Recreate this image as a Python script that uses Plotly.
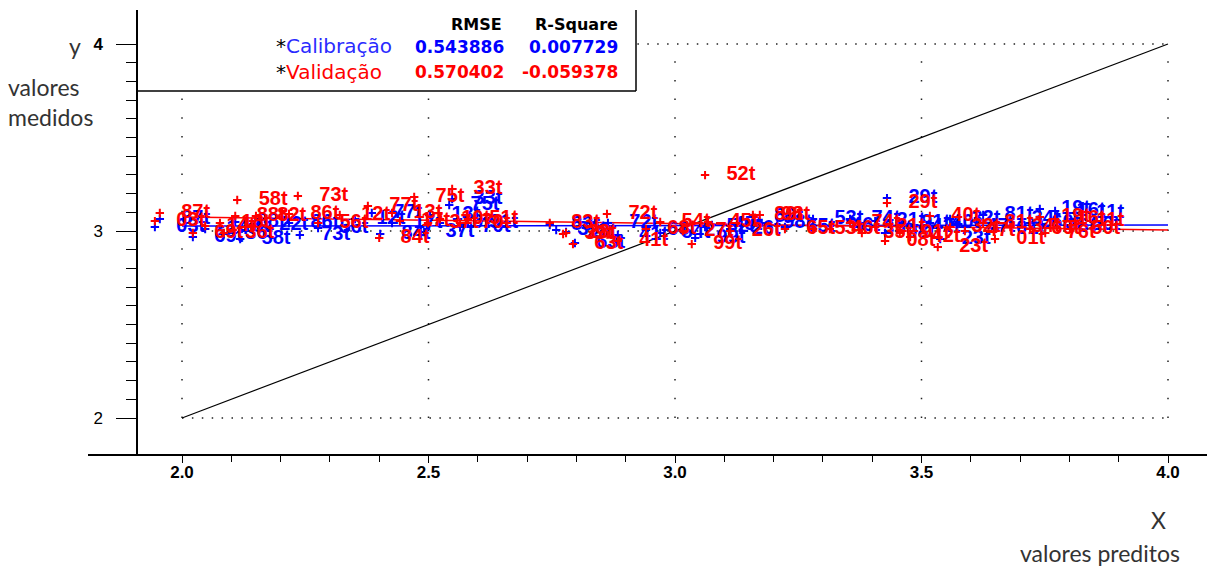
import plotly.graph_objects as go
import numpy as np

W, H = 1207, 567

# ---------------- data ----------------
cal_labels = ["03t", "87t", "69t", "14t", "18t", "36t", "88t", "58t", "22t", "86t", "73t", "56t",
              "12t", "77t", "84t", "17t", "37t", "13t", "10t", "75t", "33t", "70t", "51t",
              "83t", "39t", "28t", "63t", "72t", "41t", "68t", "54t", "27t", "99t", "52t", "45t",
              "26t", "89t", "98t", "65t",
              "53t", "46t", "74t", "35t", "21t", "29t", "08t", "91t", "42t", "40t", "23t", "32t",
              "47t", "81t", "01t", "34t", "60t", "19t", "76t", "16t", "50t", "11t"]
cal_x = [1.945, 1.955, 2.022, 2.047, 2.077, 2.085, 2.108, 2.118, 2.154, 2.217, 2.239, 2.276,
         2.351, 2.385, 2.402, 2.426, 2.491, 2.503, 2.523, 2.542, 2.548, 2.564, 2.580,
         2.746, 2.759, 2.779, 2.797, 2.864, 2.884, 2.941, 2.970, 3.016, 3.041, 3.061, 3.075,
         3.112, 3.158, 3.176, 3.223,
         3.280, 3.314, 3.355, 3.379, 3.406, 3.430, 3.426, 3.456, 3.477, 3.517, 3.538, 3.558,
         3.588, 3.625, 3.649, 3.680, 3.720, 3.740, 3.751, 3.771, 3.801, 3.811]
cal_y = [3.021, 3.064, 2.968, 3.011, 3.021, 2.984, 3.048, 2.957, 3.032, 3.043, 2.979, 3.016,
         3.064, 3.096, 2.984, 3.043, 2.995, 3.086, 3.043, 3.139, 3.171, 3.021, 3.043,
         3.032, 3.005, 2.995, 2.936, 3.043, 2.979, 3.005, 2.989, 3.000, 2.963, 3.021, 3.032,
         3.011, 3.075, 3.043, 3.021,
         3.064, 3.027, 3.064, 3.011, 3.053, 3.176, 2.989, 3.043, 3.021, 3.043, 2.957, 3.064,
         3.021, 3.086, 3.011, 3.064, 3.043, 3.118, 3.021, 3.107, 3.032, 3.096]

val_labels = ["03t", "87t", "69t", "14t", "18t", "36t", "88t", "58t", "82t", "86t", "73t", "56t",
              "12t", "77t", "84t", "13t", "17t", "75t", "37t", "10t", "33t", "70t", "51t",
              "83t", "39t", "28t", "63t", "72t", "41t", "68t", "54t", "27t", "99t", "52t", "45t",
              "26t", "89t", "98t", "65t",
              "53t", "46t", "74t", "35t", "21t", "29t", "08t", "91t", "42t", "40t", "23t", "32t",
              "47t", "81t", "01t", "34t", "60t", "19t", "76t", "16t", "50t", "11t"]
val_x = [1.945, 1.955, 2.022, 2.047, 2.077, 2.085, 2.108, 2.112, 2.150, 2.217, 2.235, 2.276,
         2.320, 2.377, 2.400, 2.426, 2.442, 2.471, 2.499, 2.523, 2.548, 2.564, 2.580,
         2.746, 2.773, 2.779, 2.793, 2.862, 2.884, 2.941, 2.970, 3.016, 3.034, 3.061, 3.067,
         3.112, 3.158, 3.172, 3.223,
         3.280, 3.314, 3.355, 3.379, 3.406, 3.430, 3.426, 3.456, 3.477, 3.517, 3.533, 3.558,
         3.588, 3.625, 3.649, 3.680, 3.720, 3.740, 3.751, 3.771, 3.801, 3.811]
val_y = [3.053, 3.096, 2.989, 3.027, 3.043, 2.989, 3.080, 3.166, 3.080, 3.091, 3.187, 3.043,
         3.086, 3.134, 2.963, 3.096, 3.053, 3.182, 3.043, 3.064, 3.225, 3.043, 3.064,
         3.043, 2.984, 2.989, 2.930, 3.091, 2.947, 3.011, 3.048, 3.000, 2.930, 3.299, 3.048,
         3.000, 3.086, 3.086, 3.011,
         3.011, 3.011, 3.043, 2.989, 3.021, 3.150, 2.947, 2.989, 2.968, 3.080, 2.914, 3.021,
         3.000, 3.043, 2.957, 3.021, 3.011, 3.075, 2.989, 3.064, 3.011, 3.053]

# regression lines (end points) and target line
reg_x = [2.0, 4.0]
cal_fit_y = [3.027, 3.032]
val_fit_y = [3.075, 3.005]
target_x = [2.0, 4.0]
target_y = [2.0, 4.0]

stats_header = ["RMSE", "R-Square"]
cal_stats = ["0.543886", "0.007729"]
val_stats = ["0.570402", "-0.059378"]

BLUE = "#0000ff"
RED = "#ff0000"

# ---------------- geometry ----------------
XPIX = 493.0   # px per x unit
YPIX = 187.0   # px per y unit
x_range = [2.0 - (182 - 88) / XPIX, 4.0 + (1207 - 1168) / XPIX]
y_range = [2.0 - (454 - 418) / YPIX, 4.0 + (44 - 10) / YPIX]
y_dom = [(H - 454) / H, (H - 10) / H]
x_dom = [88 / W, 1.0]
yaxis_pos = 137 / W
yaxis_x_data = 2.0 - (182 - 137) / XPIX
box_right = 2.0 + (636 - 182) / XPIX
box_bottom = 3.0 - (90 - 230) / YPIX

fig = go.Figure()

fig.add_trace(go.Scatter(x=target_x, y=target_y, mode="lines",
                         line=dict(color="black", width=1.2), showlegend=False, hoverinfo="skip"))
fig.add_trace(go.Scatter(x=reg_x, y=cal_fit_y, mode="lines",
                         line=dict(color=BLUE, width=1.5), showlegend=False, hoverinfo="skip"))
fig.add_trace(go.Scatter(x=reg_x, y=val_fit_y, mode="lines",
                         line=dict(color=RED, width=1.5), showlegend=False, hoverinfo="skip"))

label_font = dict(family="Liberation Sans, Arial", size=20, weight="bold")
for lab, xs, ys, col in [(cal_labels, cal_x, cal_y, BLUE), (val_labels, val_x, val_y, RED)]:
    fig.add_trace(go.Scatter(
        x=xs, y=ys, text=lab, mode="markers+text",
        texttemplate="\u00a0\u00a0\u00a0%{text}",
        textposition="middle right",
        textfont=dict(color=col, **label_font),
        marker=dict(symbol="cross-thin", size=6, line=dict(color=col, width=2), color=col),
        showlegend=False, cliponaxis=False))

# ---------------- shapes (grid + stats box) ----------------
shapes = []
for gx in [2.0, 2.5, 3.0, 3.5, 4.0]:
    shapes.append(dict(type="line", xref="x", yref="y", x0=gx, x1=gx, y0=2.0, y1=4.0,
                       line=dict(color="#222", width=1.5, dash="1.5px,17.2px"), layer="below"))
for gy in [2.0, 3.0, 4.0]:
    shapes.append(dict(type="line", xref="x", yref="y", x0=2.0, x1=4.0, y0=gy, y1=gy,
                       line=dict(color="#222", width=1.5, dash="1.5px,8.4px"), layer="below"))
shapes.append(dict(type="rect", xref="x", yref="y", x0=yaxis_x_data, x1=box_right,
                   y0=box_bottom, y1=y_range[1], fillcolor="white", line=dict(width=0), layer="below"))
shapes.append(dict(type="line", xref="x", yref="y", x0=yaxis_x_data, x1=box_right,
                   y0=box_bottom, y1=box_bottom, line=dict(color="black", width=1.5)))
shapes.append(dict(type="line", xref="x", yref="y", x0=box_right, x1=box_right,
                   y0=box_bottom, y1=y_range[1], line=dict(color="black", width=1.5)))


def ann(text, x, y, xanchor="left", size=16, color="black", family="DejaVu Sans", weight="normal"):
    return dict(text=text, x=x / W, y=1 - y / H, xref="paper", yref="paper",
                xanchor=xanchor, yanchor="middle", showarrow=False,
                font=dict(size=size, color=color, family=family, weight=weight))


annotations = [
    ann(stats_header[0], 504, 25, "right", 16, "black", "DejaVu Sans", "bold"),
    ann(stats_header[1], 620, 25, "right", 16, "black", "DejaVu Sans", "bold"),
    ann("*<span style='color:#2a2aff'>Calibração</span>", 274, 46, "left", 20, "black", "DejaVu Sans"),
    ann("*<span style='color:#ff0000'>Validação</span>", 274, 72, "left", 20, "black", "DejaVu Sans"),
    ann(cal_stats[0], 506, 47, "right", 17, BLUE, "DejaVu Sans", "bold"),
    ann(cal_stats[1], 620, 47, "right", 17, BLUE, "DejaVu Sans", "bold"),
    ann(val_stats[0], 506, 72, "right", 17, RED, "DejaVu Sans", "bold"),
    ann(val_stats[1], 620, 72, "right", 17, RED, "DejaVu Sans", "bold"),
    ann("y", 75, 46, "center", 23, "#333", "Lato"),
    ann("valores", 6, 87, "left", 23, "#333", "Lato"),
    ann("medidos", 6, 117, "left", 23, "#333", "Lato"),
    ann("X", 1158, 520, "center", 23, "#333", "Lato"),
    ann("valores preditos", 1182, 553, "right", 23, "#333", "Lato"),
]

fig.update_layout(
    width=W, height=H,
    margin=dict(l=0, r=0, t=0, b=0),
    paper_bgcolor="white", plot_bgcolor="white",
    shapes=shapes, annotations=annotations,
    xaxis=dict(domain=x_dom, range=x_range, anchor="y",
               showgrid=False, zeroline=False, showline=True, linecolor="black", linewidth=2,
               tickmode="array", tickvals=[2.0, 2.5, 3.0, 3.5, 4.0],
               ticktext=["2.0", "2.5", "3.0", "3.5", "4.0"],
               ticks="outside", ticklen=7, tickwidth=1.2, tickcolor="black",
               ticklabelstandoff=-5,
               tickfont=dict(family="Liberation Sans, Arial", size=17, color="black", weight="bold"),
               minor=dict(tickmode="array",
                          tickvals=[v for v in np.round(np.arange(2.1, 4.0, 0.1), 1) if v not in (2.5, 3.0, 3.5)],
                          ticks="outside", ticklen=6, tickwidth=1.2, tickcolor="black", showgrid=False)),
    yaxis=dict(domain=y_dom, range=y_range, anchor="free", position=yaxis_pos,
               showgrid=False, zeroline=False, showline=True, linecolor="black", linewidth=1.5,
               tickmode="array", tickvals=[2, 3, 4],
               ticktext=["2", "3", "<b>4</b>"],
               ticks="outside", ticklen=20, tickwidth=1.2, tickcolor="black",
               ticklabelstandoff=10,
               tickfont=dict(family="Liberation Sans, Arial", size=17, color="black"),
               minor=dict(tickmode="array",
                          tickvals=[v for v in np.round(np.arange(2.1, 4.0, 0.1), 1) if v != 3.0],
                          ticks="outside", ticklen=10, tickwidth=1.2, tickcolor="black", showgrid=False)),
)

fig.write_html("out.html")
